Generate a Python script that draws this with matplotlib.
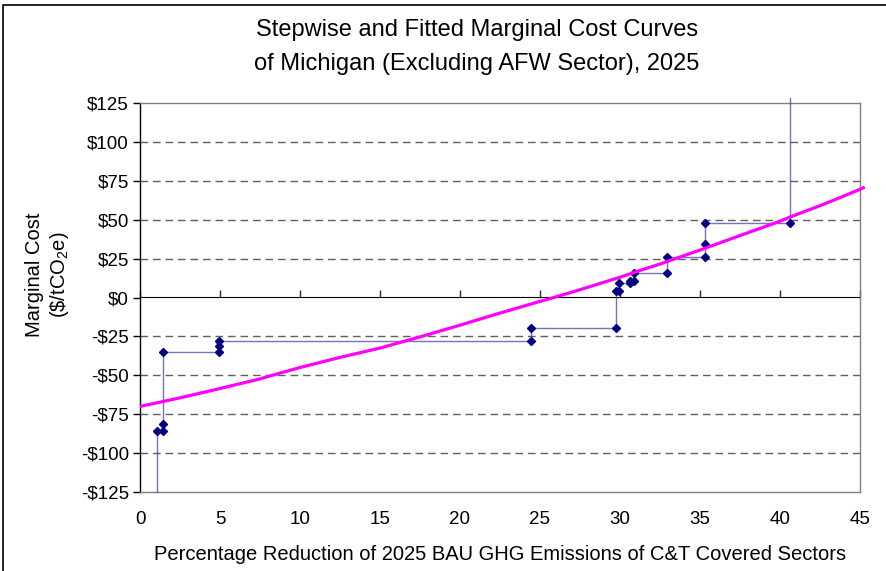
import matplotlib
matplotlib.use("Agg")
import matplotlib.pyplot as plt
from matplotlib.lines import Line2D

plt.rcParams['font.family'] = ['Liberation Sans', 'DejaVu Sans']

# Stepwise marginal cost curve (marker points)
step_x = [1.04, 1.42, 1.42, 1.42, 4.94, 4.94, 4.94, 24.44, 24.44, 29.73, 29.73,
          29.94, 29.94, 30.6, 30.6, 30.85, 30.85, 32.96, 32.96, 35.31, 35.31, 35.31, 40.63]
step_y = [-85.5, -85.5, -81.2, -35.3, -35.3, -31.0, -28.0, -28.0, -19.7, -19.7, 4.1,
          4.1, 9.2, 9.2, 10.8, 10.8, 15.9, 15.9, 25.9, 25.9, 34.7, 47.8, 47.8]
# open ends of the stepwise curve (no markers)
start_y = -125
end_y = 128

# Fitted curve
fit_x = [0, 2.5, 5, 7.5, 8.75, 10, 12.5, 15, 16.46, 17.5, 20, 22.5, 25, 25.6, 27.5,
         30, 31.25, 32.5, 35, 37.5, 40, 40.6, 42.5, 43.3, 45, 45.3]
fit_y = [-70, -64.5, -58.5, -52.3, -48.6, -45, -38.5, -32.5, -28.3, -25.3, -17.8, -10,
         -2.5, -0.8, 5, 13, 17.4, 21.5, 30.5, 39.8, 49, 51.6, 59, 62.3, 69.5, 71]

x_ticks = [0, 5, 10, 15, 20, 25, 30, 35, 40, 45]
y_ticks = [-125, -100, -75, -50, -25, 0, 25, 50, 75, 100, 125]
y_labels = [("-$%d" % -v) if v < 0 else ("$%d" % v) for v in y_ticks]

W, H = 887, 571
fig = plt.figure(figsize=(W / 100, H / 100), dpi=100)
ax = fig.add_axes([140 / W, 1 - 492 / H, (860 - 140) / W, (492 - 103) / H])

ax.set_xlim(0, 45)
ax.set_ylim(-125, 125)

# dashed grid
for v in y_ticks:
    if v not in (0, 125, -125):
        ax.axhline(v, color='#606060', lw=1.0, dashes=(5.5, 3.5), zorder=1)

# stepwise line
lx = [step_x[0]] + step_x + [step_x[-1]]
ly = [start_y] + step_y + [end_y]
ax.plot(lx, ly, color='#3a3a98', lw=1.0, alpha=0.7, zorder=3, clip_on=False)
ax.plot(step_x, step_y, linestyle='none', marker='D', markersize=4.5,
        color='#000080', zorder=4, clip_on=False)

# fitted curve
ax.plot(fit_x, fit_y, color='#FF00FF', lw=2.3, zorder=5, clip_on=False,
        solid_capstyle='butt')

# spines
for s in ('top', 'right', 'bottom'):
    ax.spines[s].set_color('#808080')
    ax.spines[s].set_linewidth(1.0)
ax.spines['left'].set_color('#000000')
ax.spines['left'].set_linewidth(1.0)

ax.set_yticks(y_ticks)
ax.set_yticklabels(y_labels, fontsize=13.5)
ax.tick_params(axis='y', direction='out', length=5, width=1, pad=3, color='black')
ax.set_xticks(x_ticks)
ax.set_xticklabels([str(v) for v in x_ticks], fontsize=13.5)
ax.tick_params(axis='x', length=0, pad=14)

# zero axis with tick marks
sec = ax.secondary_xaxis(0.5)
sec.set_xticks(x_ticks)
sec.set_xticklabels([])
sec.tick_params(axis='x', direction='out', length=5, width=1, color='#303030')
sec.spines['bottom'].set_color('#303030')
sec.spines['bottom'].set_linewidth(1.0)

fig.text(500 / W, 1 - 554 / H,
         'Percentage Reduction of 2025 BAU GHG Emissions of C&T Covered Sectors',
         ha='center', va='center', fontsize=14.5)

fig.text(477 / W, 1 - 30 / H, 'Stepwise and Fitted Marginal Cost Curves',
         ha='center', va='center', fontsize=17)
fig.text(477 / W, 1 - 64 / H, 'of Michigan (Excluding AFW Sector), 2025',
         ha='center', va='center', fontsize=17)

fig.text(35 / W, 1 - 275 / H, 'Marginal Cost', rotation=90, ha='center', va='center',
         fontsize=14.5)
fig.text(60 / W, 1 - 275 / H, r'(\$/tCO$_{\mathregular{2}}$e)', rotation=90, ha='center',
         va='center', fontsize=14.5)

# outer border (top and left)
fig.add_artist(Line2D([3 / W, 3 / W, 1], [0, 1 - 5 / H, 1 - 5 / H],
                      transform=fig.transFigure, color='black', lw=1.2))

fig.savefig('out.png', dpi=100)
